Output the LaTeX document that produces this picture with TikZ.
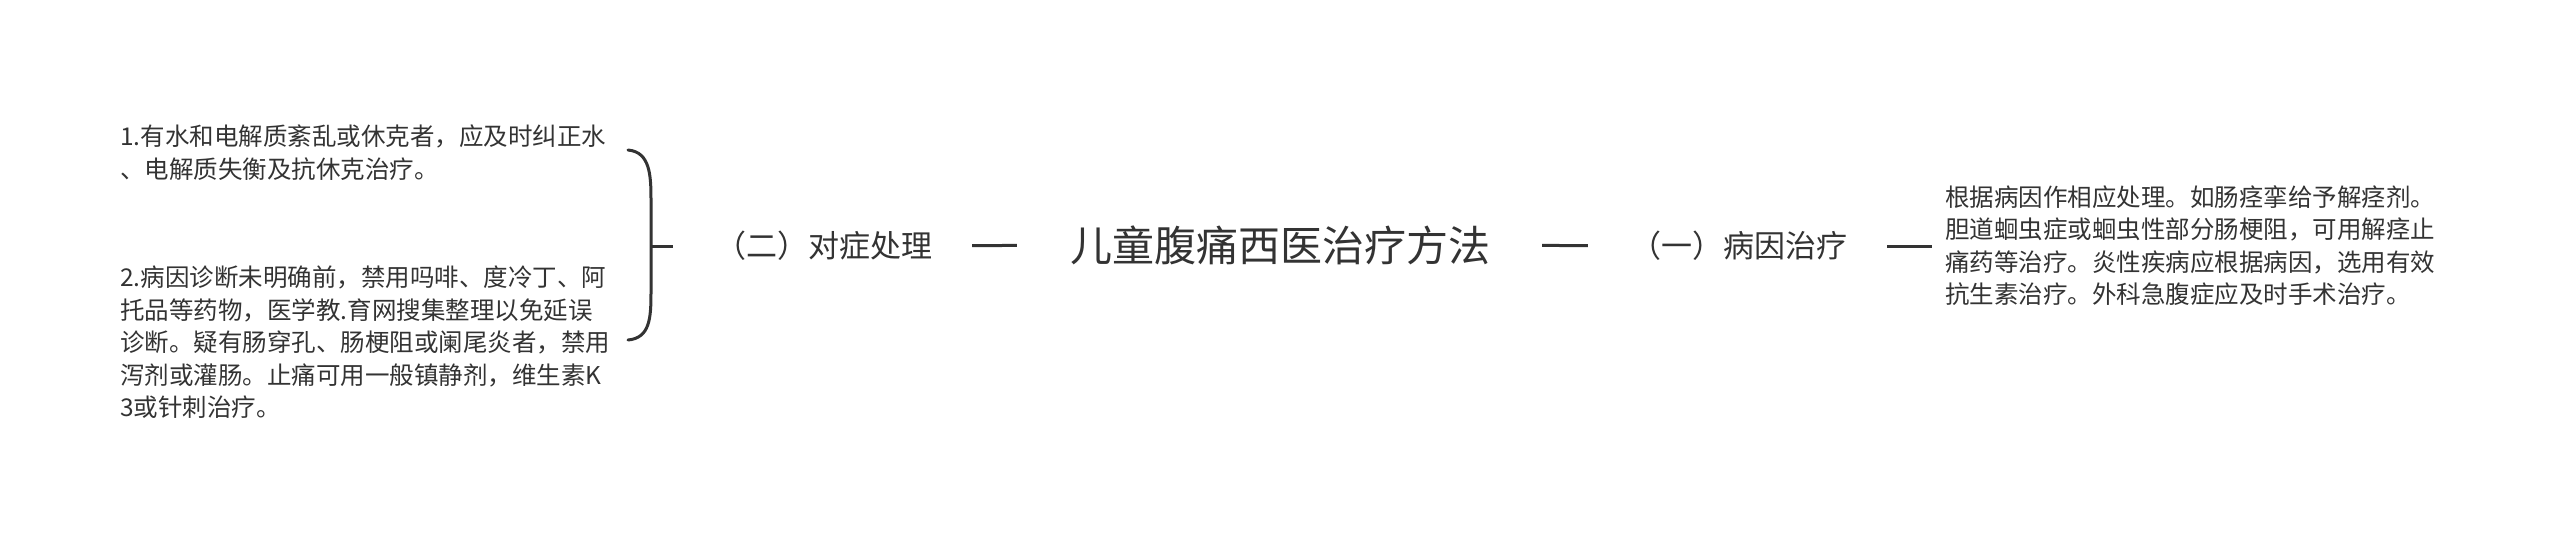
\documentclass[tikz,border=0pt]{standalone}
\usepackage{fontspec}
\setmainfont{Noto Sans CJK SC}
\definecolor{ink}{HTML}{333333}
\begin{document}
\begin{tikzpicture}[x=1pt,y=-1pt,
  txt/.style={font=\fontsize{24.5}{32.5}\selectfont, text=ink, align=left, inner sep=0pt, anchor=west},
  lab/.style={font=\fontsize{31}{36}\selectfont, text=ink, inner sep=0pt},
  ttl/.style={font=\fontsize{42}{50}\selectfont, text=ink, inner sep=0pt},
  conn/.style={draw=ink, line width=3pt},
  brace/.style={draw=ink, line width=3pt, line cap=round}]
\useasboundingbox (0,0) rectangle (2560,539);

\node[ttl] (title) at (1280,245) {儿童腹痛西医治疗方法};
\node[lab] (lab2) at (824,246) {（二）对症处理};
\node[lab] (lab1) at (1739,246) {（一）病因治疗};

\node[txt] (t1) at (120,152.5) {1.有水和电解质紊乱或休克者，应及时纠正水\\、电解质失衡及抗休克治疗。};
\node[txt] (t2) at (120,342.5) {2.病因诊断未明确前，禁用吗啡、度冷丁、阿\\托品等药物，医学教.育网搜集整理以免延误\\诊断。疑有肠穿孔、肠梗阻或阑尾炎者，禁用\\泻剂或灌肠。止痛可用一般镇静剂，维生素K\\3或针刺治疗。};
\node[txt] (r1) at (1945,245.5) {根据病因作相应处理。如肠痉挛给予解痉剂。\\胆道蛔虫症或蛔虫性部分肠梗阻，可用解痉止\\痛药等治疗。炎性疾病应根据病因，选用有效\\抗生素治疗。外科急腹症应及时手术治疗。};

% connectors
\draw[conn, shorten <=39.5pt, shorten >=53pt] (lab2.east) -- (title.west);
\draw[conn, shorten <=52pt, shorten >=42.5pt] (title.east) -- (lab1.west);
\draw[conn, shorten <=39.5pt, shorten >=13pt] (lab1.east) -- (r1.west |- lab1.east);

% bracket grouping the two left texts
\coordinate (btop) at (628,150);
\coordinate (bbot) at (628,340);
\coordinate (bmid) at (651,246);
\draw[brace] (btop) .. controls (650,152) and (651,175) .. (651,200)
  -- (651,292) .. controls (651,318) and (650,338) .. (bbot);
\draw[conn, shorten >=42.5pt] (bmid) -- (lab2.west);
\end{tikzpicture}
\end{document}
